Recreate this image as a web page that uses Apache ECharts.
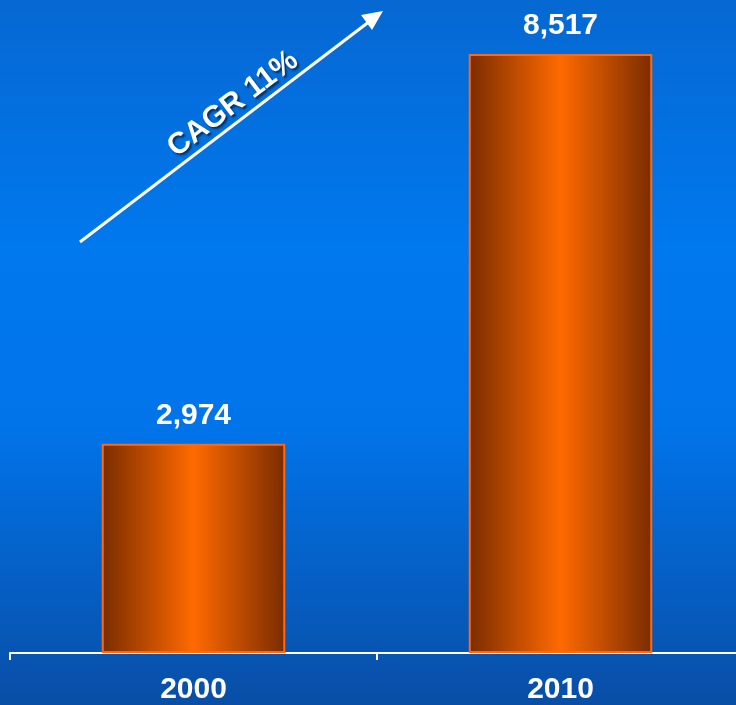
<!DOCTYPE html>
<html>
<head>
<meta charset="utf-8">
<script src="https://cdn.jsdelivr.net/npm/echarts@6/dist/echarts.min.js"></script>
<style>
  html, body { margin: 0; padding: 0; overflow: hidden; }
  /* canvas runs a little past the right edge so that each year gets an equal slot */
  #chart { width: 744px; height: 705px; }
</style>
</head>
<body>
<div id="chart"></div>
<script>
// Years and totals
const years = ['2000', '2010'];
const totals = [2974, 8517];
const growthNote = 'CAGR 11%';

const chart = echarts.init(document.getElementById('chart'));

const barFill = new echarts.graphic.LinearGradient(0, 0, 1, 0, [
  { offset: 0, color: '#7a2c00' },
  { offset: 0.5, color: '#ff6a00' },
  { offset: 1, color: '#7a2c00' }
]);

chart.setOption({
  backgroundColor: new echarts.graphic.LinearGradient(0, 0, 0, 1, [
    { offset: 0, color: '#0668d2' },
    { offset: 0.35, color: '#0078ee' },
    { offset: 0.6, color: '#0174ea' },
    { offset: 1, color: '#094ea6' }
  ]),
  animation: false,
  grid: { left: 10, right: 0, top: 20, bottom: 50 },
  xAxis: {
    type: 'category',
    data: years,
    axisLine: { lineStyle: { color: '#ffffff', width: 2 } },
    axisTick: { show: true, length: 7, lineStyle: { color: '#ffffff', width: 2 } },
    axisLabel: {
      color: '#ffffff',
      fontSize: 30,
      fontWeight: 'bold',
      fontFamily: '"Liberation Sans", Arial, sans-serif',
      margin: 22
    }
  },
  yAxis: {
    type: 'value',
    min: 0,
    max: 9000,
    show: false,
    splitLine: { show: false }
  },
  series: [{
    type: 'bar',
    data: totals,
    barWidth: '50%',
    itemStyle: {
      color: barFill,
      borderColor: '#ff6a10',
      borderWidth: 2
    },
    label: {
      show: true,
      position: 'top',
      distance: 13,
      color: '#ffffff',
      fontSize: 30,
      fontWeight: 'bold',
      fontFamily: '"Liberation Sans", Arial, sans-serif',
      formatter: p => p.value.toLocaleString('en-US')
    }
  }],
  graphic: [
    {
      type: 'line',
      shape: { x1: 80, y1: 242, x2: 370, y2: 21 },
      style: { stroke: '#ffffff', lineWidth: 3 }
    },
    {
      type: 'polygon',
      shape: { points: [[383, 11], [361, 15], [372, 30]] },
      style: { fill: '#ffffff' }
    },
    {
      type: 'text',
      x: 233,
      y: 104,
      rotation: 37.3 * Math.PI / 180,
      style: {
        text: growthNote,
        fill: '#ffffff',
        font: 'bold 30px "Liberation Sans", Arial, sans-serif',
        align: 'center',
        verticalAlign: 'middle',
        textShadowColor: 'rgba(0,0,0,0.55)',
        textShadowBlur: 2,
        textShadowOffsetX: 2,
        textShadowOffsetY: 2
      }
    }
  ]
});
</script>
</body>
</html>
